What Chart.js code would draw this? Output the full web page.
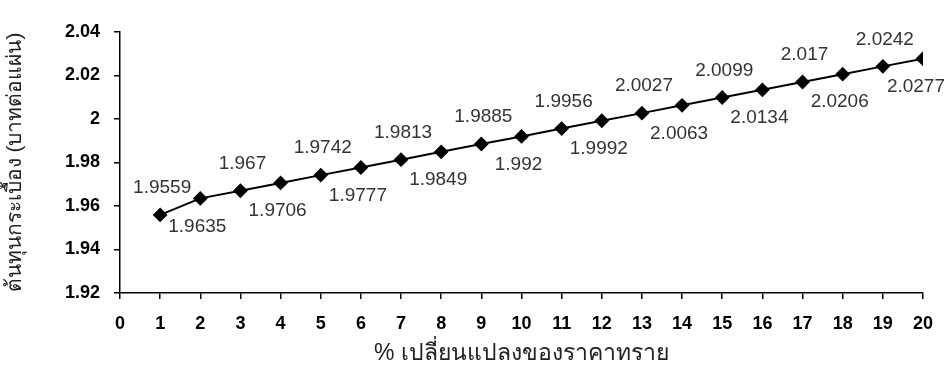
<!DOCTYPE html>
<html>
<head>
<meta charset="utf-8">
<script src="https://cdn.jsdelivr.net/npm/chart.js@4/dist/chart.umd.min.js"></script>
<style>
  html, body { margin: 0; padding: 0; background: #fff; }
  #wrap { width: 947px; height: 376px; }
</style>
</head>
<body>
<div id="wrap"><canvas id="c" width="947" height="376"></canvas></div>
<script>
// % change in sand price (x) and tile cost in baht per sheet (y)
const sandChange = [1, 2, 3, 4, 5, 6, 7, 8, 9, 10, 11, 12, 13, 14, 15, 16, 17, 18, 19, 20];
const tileCost = [1.9559, 1.9635, 1.967, 1.9706, 1.9742, 1.9777, 1.9813, 1.9849, 1.9885, 1.992,
                  1.9956, 1.9992, 2.0027, 2.0063, 2.0099, 2.0134, 2.017, 2.0206, 2.0242, 2.0277];
const yTicks = [1.92, 1.94, 1.96, 1.98, 2, 2.02, 2.04];
const xTitle = '% เปลี่ยนแปลงของราคาทราย';
const yTitle = 'ต้นทุนกระเบื้อง (บาทต่อแผ่น)';

const points = sandChange.map((x, i) => ({ x: x, y: tileCost[i] }));

// Value labels: alternate above and below the markers
const valueLabels = {
  id: 'valueLabels',
  afterDatasetsDraw(chart) {
    const ctx = chart.ctx;
    const meta = chart.getDatasetMeta(0);
    ctx.save();
    ctx.font = '19px "Liberation Sans", Arial, sans-serif';
    ctx.fillStyle = '#333';
    ctx.textAlign = 'center';
    ctx.textBaseline = 'middle';
    meta.data.forEach((pt, i) => {
      const text = String(tileCost[i]);
      const w = ctx.measureText(text).width;
      let x, y;
      if (i % 2 === 0) { x = pt.x + 2; y = pt.y - 27; }
      else { x = pt.x - 3; y = pt.y + 28; }
      x = Math.min(x, chart.width - 2 - w / 2);
      ctx.fillText(text, x, y);
    });
    ctx.restore();
  }
};

new Chart(document.getElementById('c'), {
  type: 'line',
  data: {
    datasets: [{
      data: points,
      borderColor: '#000',
      borderWidth: 2,
      backgroundColor: '#000',
      pointStyle: 'rectRot',
      pointRadius: 6,
      pointHoverRadius: 6,
      pointBackgroundColor: '#000',
      pointBorderColor: '#000',
      tension: 0
    }]
  },
  options: {
    responsive: false,
    animation: false,
    events: [],
    layout: { padding: { left: 0, right: 17, top: 32, bottom: 0 } },
    plugins: { legend: { display: false }, tooltip: { enabled: false } },
    scales: {
      x: {
        type: 'linear',
        min: 0,
        max: 20,
        afterFit(scale) { scale.height = 83; },
        afterBuildTicks(scale) {
          scale.ticks = Array.from({ length: 21 }, (_, i) => ({ value: i }));
        },
        border: { display: true, color: '#000', width: 1.5 },
        grid: { display: true, drawOnChartArea: false, drawTicks: true, tickLength: 6, color: '#000', lineWidth: 1.5 },
        ticks: {
          color: '#000',
          padding: 14,
          maxRotation: 0,
          autoSkip: false,
          font: { family: '"Liberation Sans", Arial, sans-serif', size: 18, weight: 'bold' }
        },
        title: {
          display: true,
          text: xTitle,
          color: '#222',
          padding: { top: 0, bottom: 9 },
          font: { family: '"Liberation Sans", Arial, sans-serif', size: 23 }
        }
      },
      y: {
        min: 1.92,
        max: 2.04,
        afterFit(scale) { scale.width = 120; },
        afterBuildTicks(scale) {
          scale.ticks = yTicks.map(v => ({ value: v }));
        },
        border: { display: true, color: '#000', width: 1.5 },
        grid: { display: true, drawOnChartArea: false, drawTicks: true, tickLength: 6, color: '#000', lineWidth: 1.5 },
        ticks: {
          color: '#000',
          padding: 14,
          font: { family: '"Liberation Sans", Arial, sans-serif', size: 18, weight: 'bold' },
          callback: v => String(Math.round(v * 100) / 100)
        },
        title: {
          display: true,
          text: yTitle,
          color: '#222',
          padding: { top: 3, bottom: 0 },
          font: { family: '"Liberation Sans", Arial, sans-serif', size: 21 }
        }
      }
    }
  },
  plugins: [valueLabels]
});
</script>
</body>
</html>
